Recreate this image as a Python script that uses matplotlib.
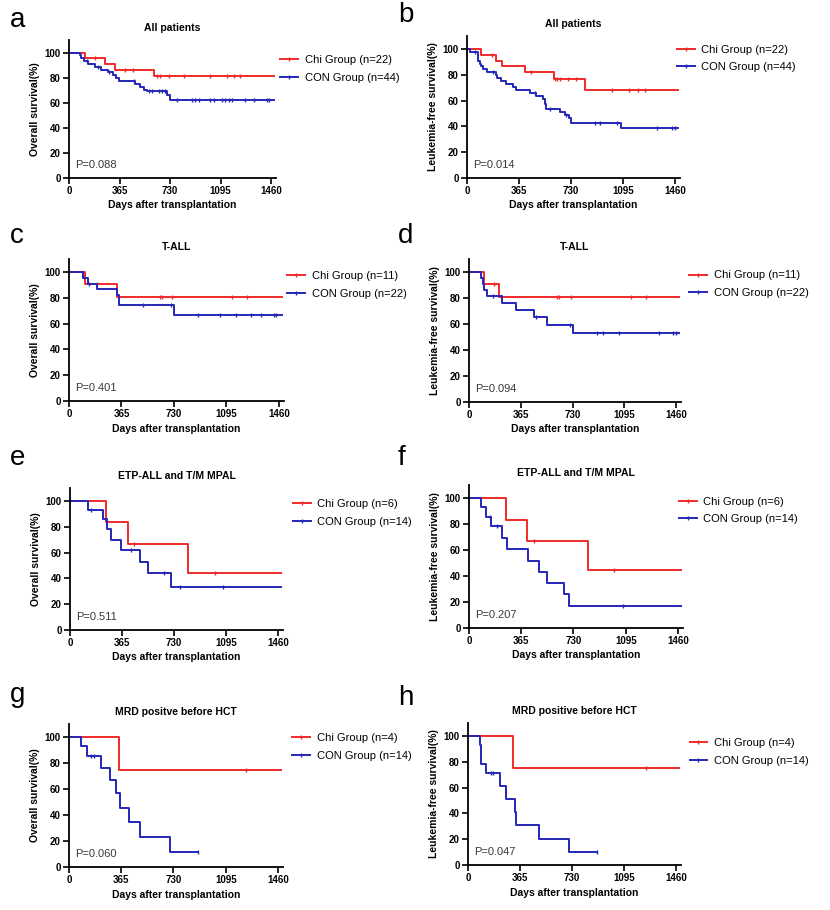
import matplotlib
matplotlib.use("Agg")
import matplotlib.pyplot as plt
from matplotlib.lines import Line2D
import numpy as np

plt.rcParams["font.family"] = ["Liberation Sans", "DejaVu Sans"]

RED = "#f02a2a"
BLUE = "#2626b8"
END = 1480

# ---- data (days, survival %) ----
# a: all patients, overall survival
a_chi_t = [0, 116, 258, 333, 615, END]
a_chi_s = [100, 95.5, 90.9, 86.4, 81.0, 81.0]
a_chi_c = [188, 405, 461, 635, 659, 720, 828, 1021, 1142, 1190, 1238]
a_con_t = [0, 80, 90, 105, 135, 185, 230, 280, 320, 340, 360, 480, 510, 545, 563, 710, 732, END]
a_con_s = [100, 97.7, 95.5, 93.2, 90.9, 88.6, 86.4, 84.1, 81.8, 79.5, 77.3, 75.0, 72.7, 70.5, 69.0, 66.3, 62.5, 62.5]
a_con_c = [130, 210, 290, 470, 580, 600, 650, 670, 690, 780, 889, 913, 937, 1021, 1045, 1106, 1130,
           1154, 1178, 1270, 1334, 1431, 1445]

# b: all patients, leukemia-free survival
b_chi_t = [0, 101, 206, 248, 405, 609, 827, END]
b_chi_s = [100, 95.5, 90.9, 86.4, 81.8, 77.0, 67.8, 67.8]
b_chi_c = [178, 452, 621, 635, 656, 710, 768, 1019, 1139, 1202, 1249]
b_con_t = [0, 19, 77, 90, 100, 112, 143, 201, 212, 241, 277, 323, 342, 441, 483, 534, 546, 553, 651,
           687, 717, 733, 1078, END]
b_con_s = [100, 97.7, 90.9, 88.6, 86.4, 84.1, 81.8, 79.5, 77.3, 75.0, 72.7, 70.5, 68.2, 65.9, 63.6,
           61.4, 57.0, 53.5, 51.2, 48.8, 46.5, 42.3, 38.5, 38.5]
b_con_c = [54, 183, 476, 581, 698, 898, 933, 1050, 1331, 1437, 1460]

# c: T-ALL, overall survival
c_chi_t = [0, 111, 331, END]
c_chi_s = [100, 90.9, 80.8, 80.8]
c_chi_c = [192, 633, 644, 714, 1136, 1240]
c_con_t = [0, 100, 130, 195, 335, 350, 730, END]
c_con_s = [100, 95.5, 90.9, 86.4, 81.8, 74.5, 67.0, 67.0]
c_con_c = [141, 517, 709, 899, 1050, 1159, 1263, 1333, 1425, 1439]

# d: T-ALL, leukemia-free survival
d_chi_t = [0, 106, 214, END]
d_chi_s = [100, 90.9, 80.8, 80.8]
d_chi_c = [179, 619, 638, 718, 1142, 1250]
d_con_t = [0, 85, 97, 106, 125, 235, 332, 459, 549, 732, END]
d_con_s = [100, 95.5, 90.9, 86.4, 81.8, 76.5, 70.5, 65.5, 59.5, 53.0, 53.0]
d_con_c = [167, 471, 709, 902, 942, 1055, 1337, 1436, 1460]

# e: ETP-ALL and T/M MPAL, overall survival
e_chi_t = [0, 254, 410, 830, END]
e_chi_s = [100, 83.3, 66.7, 44.4, 44.4]
e_chi_c = [452, 1017]
e_con_t = [0, 124, 231, 259, 289, 357, 492, 550, 707, END]
e_con_s = [100, 92.9, 85.7, 78.6, 70.0, 62.0, 53.0, 44.4, 33.3, 33.3]
e_con_c = [150, 429, 662, 772, 1075]

# f: ETP-ALL and T/M MPAL, leukemia-free survival
f_chi_t = [0, 256, 407, 828, END]
f_chi_s = [100, 83.3, 66.7, 44.4, 44.4]
f_chi_c = [453, 1014]
f_con_t = [0, 81, 119, 153, 228, 263, 409, 491, 542, 665, 700, END]
f_con_s = [100, 92.9, 85.7, 78.6, 69.0, 60.7, 51.7, 43.3, 34.6, 26.0, 17.3, 17.3]
f_con_c = [147, 198, 1077]

# g: MRD positive before HCT, overall survival
g_chi_t = [0, 351, END]
g_chi_s = [100, 75.0, 75.0]
g_chi_c = [1240]
g_con_t = [0, 81, 128, 221, 286, 328, 356, 421, 495, 705, 902]
g_con_s = [100, 92.9, 85.7, 76.2, 66.7, 57.1, 45.7, 34.3, 22.9, 11.4, 11.4]
g_con_c = [151, 174, 902]

# h: MRD positive before HCT, leukemia-free survival
h_chi_t = [0, 317, END]
h_chi_s = [100, 75.0, 75.0]
h_chi_c = [1249]
h_con_t = [0, 82, 89, 94, 129, 228, 270, 329, 340, 498, 709, 908]
h_con_s = [100, 92.9, 85.7, 78.6, 71.4, 61.2, 51.0, 41.0, 30.6, 20.4, 10.2, 10.2]
h_con_c = [164, 176, 908]

titles = ["All patients", "All patients", "T-ALL", "T-ALL",
          "ETP-ALL and T/M MPAL", "ETP-ALL and T/M MPAL",
          "MRD positve before HCT", "MRD positive before HCT"]
letters = ["a", "b", "c", "d", "e", "f", "g", "h"]
pvalues = ["P=0.088", "P=0.014", "P=0.401", "P=0.094", "P=0.511", "P=0.207", "P=0.060", "P=0.047"]
ylabels = ["Overall survival(%)", "Leukemia-free survival(%)"] * 4
chi_n = [22, 22, 11, 11, 6, 6, 4, 4]
con_n = [44, 44, 22, 22, 14, 14, 14, 14]

chi_data = [(a_chi_t, a_chi_s, a_chi_c), (b_chi_t, b_chi_s, b_chi_c), (c_chi_t, c_chi_s, c_chi_c),
            (d_chi_t, d_chi_s, d_chi_c), (e_chi_t, e_chi_s, e_chi_c), (f_chi_t, f_chi_s, f_chi_c),
            (g_chi_t, g_chi_s, g_chi_c), (h_chi_t, h_chi_s, h_chi_c)]
con_data = [(a_con_t, a_con_s, a_con_c), (b_con_t, b_con_s, b_con_c), (c_con_t, c_con_s, c_con_c),
            (d_con_t, d_con_s, d_con_c), (e_con_t, e_con_s, e_con_c), (f_con_t, f_con_s, f_con_c),
            (g_con_t, g_con_s, g_con_c), (h_con_t, h_con_s, h_con_c)]

# ---- layout (pixels: left, right, top, bottom) ----
W, H = 830, 910
boxes = [(69, 276, 40, 178), (467, 680, 36, 178),
         (69, 284, 259, 401), (469, 681, 259, 402),
         (70, 283, 488, 630), (469, 683, 485, 628),
         (69, 283, 724, 867), (468, 681, 723, 865)]
leg_anchor = [(1.02, 0.89), (0.986, 0.94), (1.015, 0.915), (1.04, 0.92),
              (1.047, 0.924), (0.981, 0.919), (1.044, 0.936), (1.04, 0.894)]
letter_pos = [(10, 27), (398, 22), (10, 243), (398, 243),
              (10, 465), (398, 465), (10, 702), (398, 705)]


def step_value(t_list, s_list, t):
    idx = np.searchsorted(t_list, t, side="right") - 1
    return s_list[max(idx, 0)]


fig = plt.figure(figsize=(W / 100, H / 100), dpi=100)

for i in range(8):
    l, r, t, b = boxes[i]
    ax = fig.add_axes([l / W, 1 - b / H, (r - l) / W, (b - t) / H])

    for (tt, ss, cc), col in [(chi_data[i], RED), (con_data[i], BLUE)]:
        ax.step(tt, ss, where="post", color=col, lw=1.4)
        cy = [step_value(tt, ss, c) for c in cc]
        ax.plot(cc, cy, ls="none", marker="|", ms=3.5, mew=1.0, color=col)

    ax.set_xlim(0, 1495)
    ax.set_ylim(0, 110)
    ax.set_xticks([0, 365, 730, 1095, 1460])
    ax.set_yticks([0, 20, 40, 60, 80, 100])
    for s in ["top", "right"]:
        ax.spines[s].set_visible(False)
    for s in ["left", "bottom"]:
        ax.spines[s].set_linewidth(1.3)
    ax.tick_params(direction="out", length=4, width=1.2, labelsize=7, pad=2)
    for lab in ax.get_xticklabels() + ax.get_yticklabels():
        lab.set_fontweight("bold")

    ax.set_xlabel("Days after transplantation", fontsize=7.5, fontweight="bold", labelpad=3)
    ax.set_ylabel(ylabels[i], fontsize=7.5, fontweight="bold", labelpad=3)
    ax.set_title(titles[i], fontsize=7.5, fontweight="bold", pad=6.5)
    ax.text(45, 10, pvalues[i], fontsize=8, color="#3a3a3a", va="center", ha="left")

    handles = [Line2D([], [], color=RED, lw=1.4, marker="|", ms=3.5),
               Line2D([], [], color=BLUE, lw=1.4, marker="|", ms=3.5)]
    labels = [f"Chi Group (n={chi_n[i]})", f"CON Group (n={con_n[i]})"]
    ax.legend(handles, labels, loc="upper left", bbox_to_anchor=leg_anchor[i], frameon=False,
              fontsize=8, handlelength=1.6, handletextpad=0.6, labelspacing=0.7,
              borderpad=0, borderaxespad=0)

    lx, ly = letter_pos[i]
    fig.text(lx / W, 1 - ly / H, letters[i], fontsize=20, va="baseline", ha="left")

fig.savefig("out.png", dpi=100)
